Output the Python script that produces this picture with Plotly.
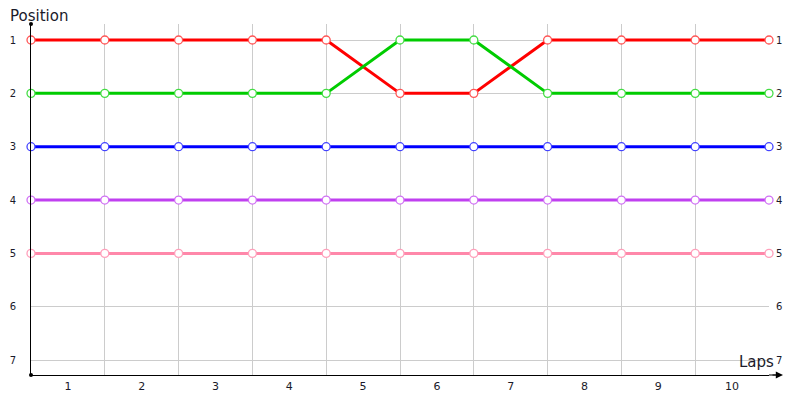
import plotly.graph_objects as go

laps_points = [0, 1, 2, 3, 4, 5, 6, 7, 8, 9, 10]
lap_labels = ["1", "2", "3", "4", "5", "6", "7", "8", "9", "10"]
lap_label_pos = [0.5, 1.5, 2.5, 3.5, 4.5, 5.5, 6.5, 7.5, 8.5, 9.5]
positions = [1, 2, 3, 4, 5, 6, 7]

red = [1, 1, 1, 1, 1, 2, 2, 1, 1, 1, 1]
green = [2, 2, 2, 2, 2, 1, 1, 2, 2, 2, 2]
blue = [3, 3, 3, 3, 3, 3, 3, 3, 3, 3, 3]
purple = [4, 4, 4, 4, 4, 4, 4, 4, 4, 4, 4]
pink = [5, 5, 5, 5, 5, 5, 5, 5, 5, 5, 5]

series = [
    (red, "#ff0000", "#ff5555"),
    (green, "#00cc00", "#44dd44"),
    (blue, "#0000ff", "#4444ff"),
    (purple, "#c040f0", "#d070f4"),
    (pink, "#ff88aa", "#ffa0bb"),
]

fig = go.Figure()
for vals, col, mcol in series:
    fig.add_trace(go.Scatter(
        x=laps_points, y=vals, mode="lines+markers",
        line=dict(color=col, width=3),
        marker=dict(symbol="circle", size=8, color="white",
                    line=dict(color=mcol, width=1.3)),
        cliponaxis=False, showlegend=False, hoverinfo="skip",
    ))

# invisible helpers for secondary axes
fig.add_trace(go.Scatter(x=lap_label_pos, y=[None]*10, xaxis="x2", yaxis="y",
                         mode="markers", showlegend=False, hoverinfo="skip"))
fig.add_trace(go.Scatter(x=laps_points, y=[None]*11, xaxis="x", yaxis="y2",
                         mode="markers", showlegend=False, hoverinfo="skip"))

font = "DejaVu Sans, Verdana, sans-serif"
yrange = [7.28, 0.7]

fig.update_layout(
    width=792, height=392,
    margin=dict(l=23, r=31, t=16, b=25, autoexpand=False),
    paper_bgcolor="white", plot_bgcolor="white",
    font=dict(family=font, size=10, color="#1a1a2a"),
    xaxis=dict(range=[0, 10], tickvals=laps_points, showticklabels=False,
               showgrid=True, gridcolor="#cccccc", gridwidth=1, automargin=False,
               zeroline=False, showline=True, linecolor="black", linewidth=1,
               ticks=""),
    xaxis2=dict(range=[0, 10], overlaying="x", side="bottom", automargin=False,
                tickvals=lap_label_pos, ticktext=lap_labels,
                showgrid=False, zeroline=False, showline=False, ticks="",
                ticklabelstandoff=3,
                tickfont=dict(size=11, color="#1a1a2a", family=font)),
    yaxis=dict(range=yrange, tickvals=positions, ticktext=[str(p) for p in positions],
               showgrid=True, gridcolor="#cccccc", gridwidth=1, automargin=False,
               zeroline=False, showline=True, linecolor="black", linewidth=1,
               ticks="", ticklabelstandoff=12,
               tickfont=dict(size=10, color="#1a1a2a", family=font)),
    yaxis2=dict(range=yrange, overlaying="y", side="right", automargin=False,
                tickvals=positions, ticktext=[str(p) for p in positions],
                showgrid=False, zeroline=False, showline=False, ticks="",
                ticklabelstandoff=6,
                tickfont=dict(size=10, color="#1a1a2a", family=font)),
)

fig.add_annotation(text="Position", xref="paper", yref="paper", x=0, y=1,
                   xshift=-23, yshift=-3, xanchor="left", yanchor="bottom",
                   showarrow=False, font=dict(size=15, family=font, color="#1a1a2a"))
fig.add_annotation(text="Laps", xref="paper", yref="paper", x=1, y=0,
                   xshift=7, yshift=2, xanchor="right", yanchor="bottom",
                   showarrow=False, font=dict(size=15, family=font, color="#1a1a2a"))
# x-axis arrow head
fig.add_annotation(text="", xref="paper", yref="paper", x=1.019, y=0,
                   ax=-12, ay=0, showarrow=True, arrowhead=2, arrowsize=1.2,
                   arrowwidth=1.2, arrowcolor="black")
fig.add_shape(type="line", xref="paper", yref="paper", x0=1, x1=1.015, y0=0, y1=0,
              line=dict(color="black", width=1))
# small dots at axis ends
for yy in [0, 1]:
    fig.add_shape(type="circle", xref="paper", yref="paper", xsizemode="pixel",
                  ysizemode="pixel", xanchor=0, yanchor=yy, x0=-2, x1=2, y0=-2, y1=2,
                  fillcolor="black", line=dict(width=0))

fig.write_html("out.html")
